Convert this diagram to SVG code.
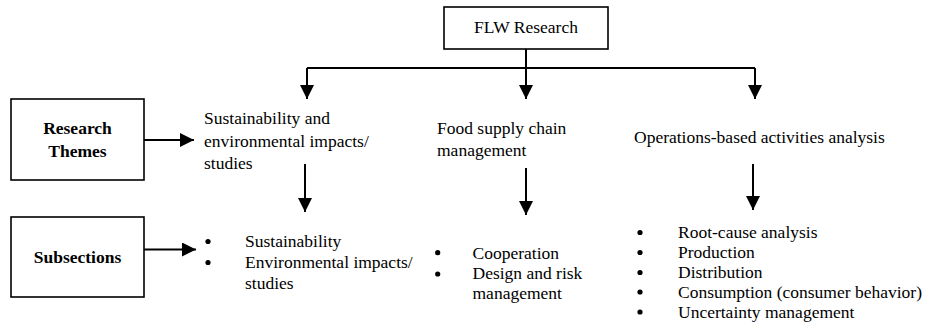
<svg xmlns="http://www.w3.org/2000/svg" width="932" height="328" viewBox="0 0 932 328">
<style>
text{font-family:'Liberation Serif','Times New Roman',Times,'DejaVu Serif',serif;font-size:17.5px;fill:#000}
.b{font-weight:bold}
.box{fill:#fff;stroke:#000;stroke-width:1.6}
.ln{fill:none;stroke:#000;stroke-width:2}
.dot{fill:#000}
</style>
<defs>
<marker id="ah" markerWidth="14" markerHeight="14" refX="14" refY="7" orient="auto" markerUnits="userSpaceOnUse">
<path d="M0,0 L14,7 L0,14 Z" fill="#000"/>
</marker>
</defs>
<g id="connectors">
<path class="ln" d="M526,49 V68"/>
<path class="ln" d="M307,68 H755"/>
<path class="ln" d="M307,68 V99" marker-end="url(#ah)"/>
<path class="ln" d="M526,68 V99" marker-end="url(#ah)"/>
<path class="ln" d="M755,68 V99" marker-end="url(#ah)"/>
<path class="ln" d="M144,140 H194" marker-end="url(#ah)"/>
<path class="ln" d="M144,249.5 H196" marker-end="url(#ah)"/>
<path class="ln" d="M305,164 V212" marker-end="url(#ah)"/>
<path class="ln" d="M526,168 V215" marker-end="url(#ah)"/>
<path class="ln" d="M753,164 V210" marker-end="url(#ah)"/>
</g>
<g id="flw" font-family="Liberation Serif, serif">
<rect class="box" x="444" y="7" width="164" height="42"/>
<text x="526" y="32.5" text-anchor="middle">FLW Research</text>
</g>
<g id="research-themes">
<rect class="box" x="11" y="99" width="133" height="81"/>
<text class="b" x="77.5" y="134" text-anchor="middle">Research</text>
<text class="b" x="77.5" y="157" text-anchor="middle">Themes</text>
</g>
<g id="subsections">
<rect class="box" x="11" y="217" width="133" height="80"/>
<text class="b" x="77.5" y="262.5" text-anchor="middle">Subsections</text>
</g>
<g id="theme-sustainability">
<text x="204" y="124">Sustainability and</text>
<text x="204" y="146.5">environmental impacts/</text>
<text x="204" y="169">studies</text>
</g>
<g id="theme-supply-chain">
<text x="437" y="134">Food supply chain</text>
<text x="437" y="155.5">management</text>
</g>
<g id="theme-operations">
<text x="634" y="143">Operations-based activities analysis</text>
</g>
<g id="sub-sustainability">
<circle class="dot" cx="208" cy="241.5" r="2.6"/>
<circle class="dot" cx="208" cy="262.5" r="2.6"/>
<text x="245" y="246.5">Sustainability</text>
<text x="245" y="268">Environmental impacts/</text>
<text x="245" y="288.5">studies</text>
</g>
<g id="sub-supply-chain">
<circle class="dot" cx="437.7" cy="252.7" r="2.6"/>
<circle class="dot" cx="437.7" cy="274" r="2.6"/>
<text x="472.5" y="258.5">Cooperation</text>
<text x="472.5" y="279">Design and risk</text>
<text x="472.5" y="299">management</text>
</g>
<g id="sub-operations">
<circle class="dot" cx="640" cy="232.5" r="2.6"/>
<circle class="dot" cx="640" cy="252.5" r="2.6"/>
<circle class="dot" cx="640" cy="272.5" r="2.6"/>
<circle class="dot" cx="640" cy="292" r="2.6"/>
<circle class="dot" cx="640" cy="312" r="2.6"/>
<text x="678" y="238">Root-cause analysis</text>
<text x="678" y="258">Production</text>
<text x="678" y="278">Distribution</text>
<text x="678" y="297.5">Consumption (consumer behavior)</text>
<text x="678" y="317.5">Uncertainty management</text>
</g>
</svg>
